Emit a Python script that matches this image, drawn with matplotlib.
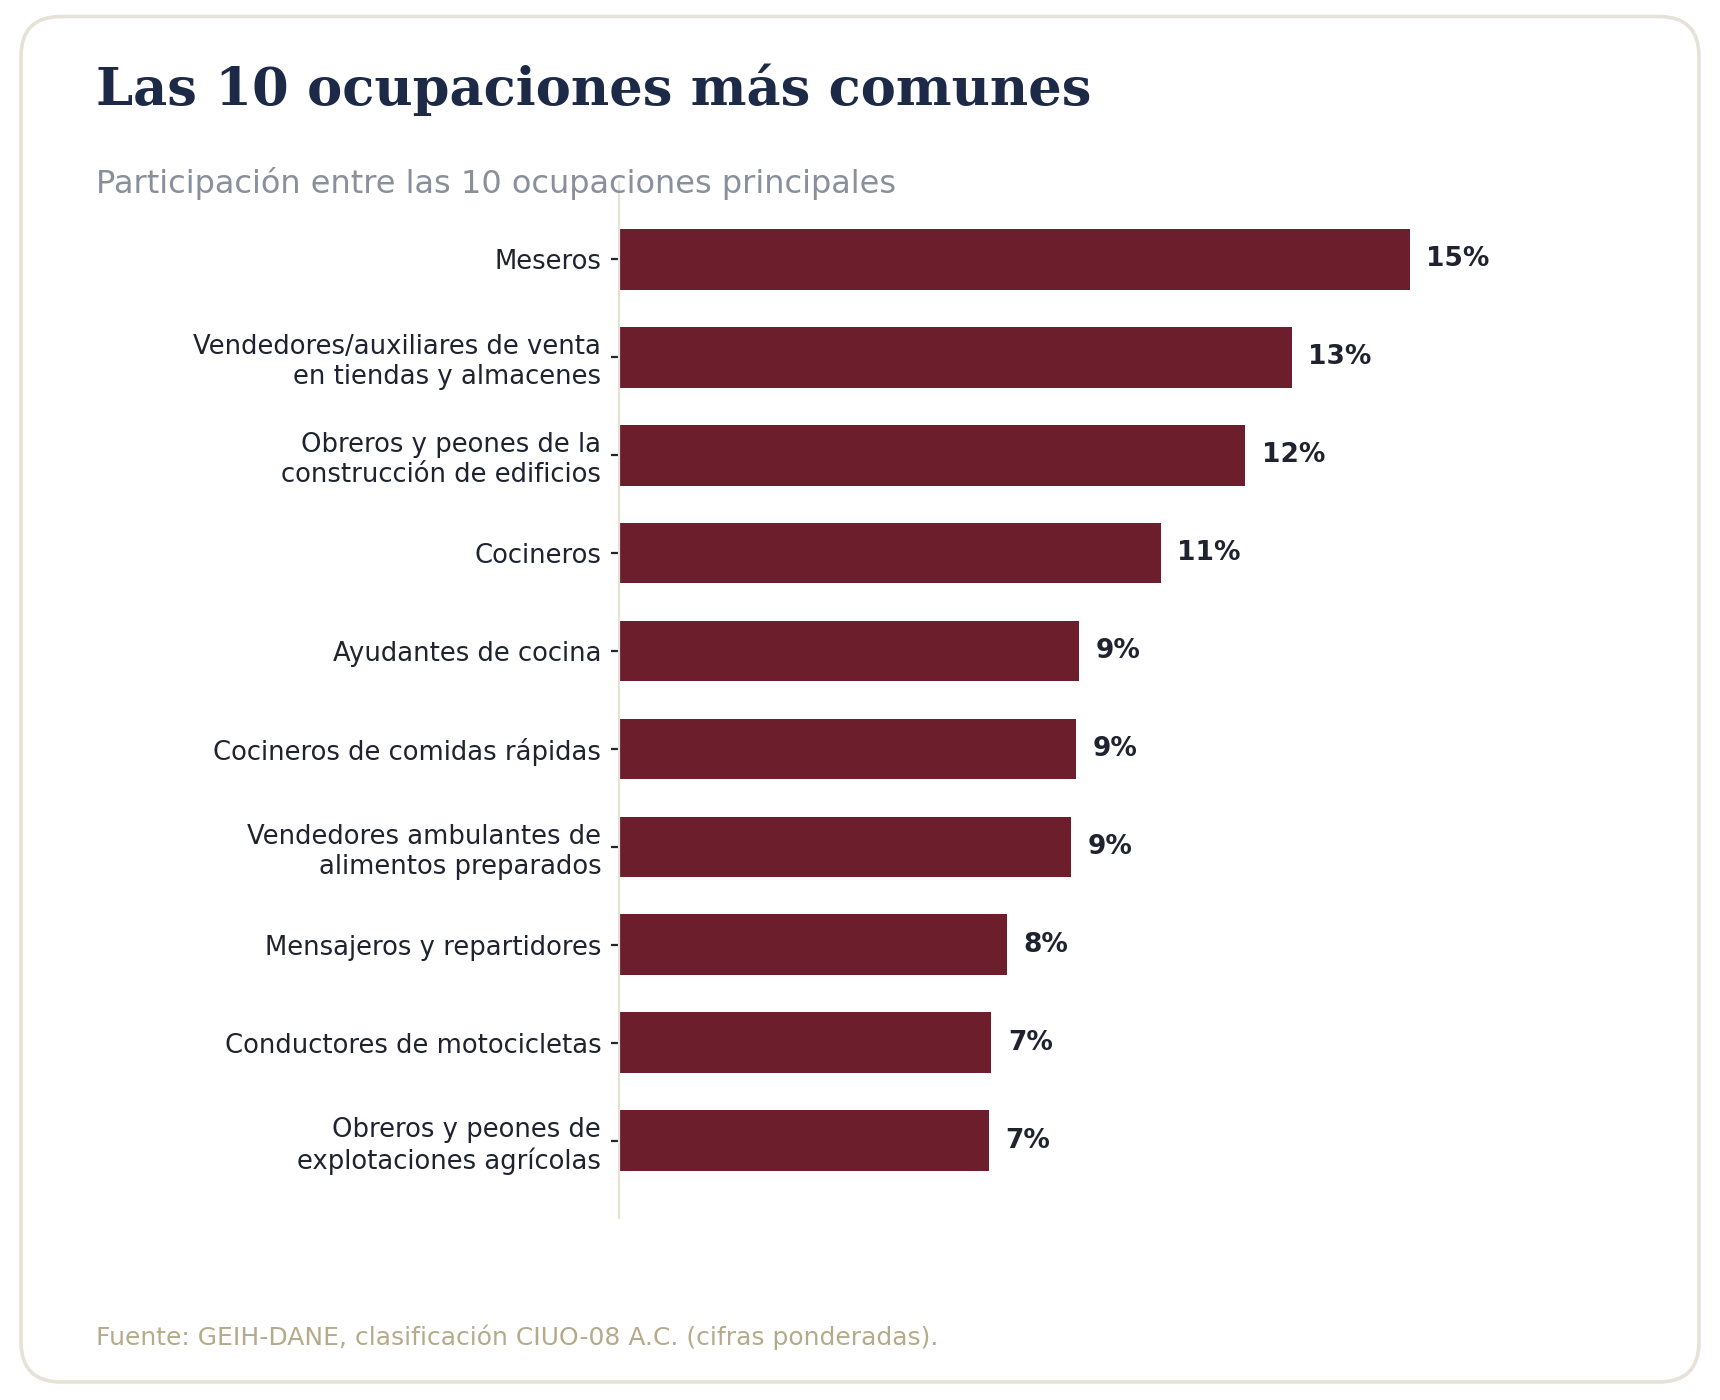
import matplotlib
matplotlib.use("Agg")
import matplotlib.pyplot as plt
from matplotlib.patches import FancyBboxPatch

categories = [
    "Meseros",
    "Vendedores/auxiliares de venta\nen tiendas y almacenes",
    "Obreros y peones de la\nconstrucción de edificios",
    "Cocineros",
    "Ayudantes de cocina",
    "Cocineros de comidas rápidas",
    "Vendedores ambulantes de\nalimentos preparados",
    "Mensajeros y repartidores",
    "Conductores de motocicletas",
    "Obreros y peones de\nexplotaciones agrícolas",
]
shares = [15.4, 13.1, 12.2, 10.55, 8.95, 8.9, 8.8, 7.55, 7.25, 7.2]

title = "Las 10 ocupaciones más comunes"
subtitle = "Participación entre las 10 ocupaciones principales"
source = "Fuente: GEIH-DANE, clasificación CIUO-08 A.C. (cifras ponderadas)."

BAR = "#6c1e2c"
TXT = "#1f2330"
TITLE = "#1c2a48"
SUB = "#8a8f9c"
FOOT = "#b5aa8a"
BORDER = "#e6e2d8"

plt.rcParams['font.family'] = ['DejaVu Sans']

fig = plt.figure(figsize=(8.6, 7), dpi=200)
fig.patch.set_facecolor("white")

# card background
bg = fig.add_axes([0, 0, 1, 1])
bg.set_xlim(0, 1720)
bg.set_ylim(0, 1400)
bg.axis("off")
card = FancyBboxPatch((21, 18), 1678, 1365.5,
                      boxstyle="round,pad=0,rounding_size=40",
                      facecolor="white", edgecolor=BORDER, linewidth=1.3)
bg.add_patch(card)

ax = fig.add_axes([0.36, 0.13, 0.57, 0.74])
ax.patch.set_alpha(0)
ypos = list(range(len(categories)))
ax.barh(ypos, shares, height=0.62, color=BAR)
ax.set_yticks(ypos)
ax.set_yticklabels(categories, fontsize=9.3, color=TXT)
ax.invert_yaxis()
ax.set_xlim(0, 19.1)
ax.set_xticks([])
for s in ["top", "right", "bottom"]:
    ax.spines[s].set_visible(False)
ax.spines["left"].set_color(BORDER)
ax.spines["left"].set_linewidth(0.8)
ax.tick_params(axis="y", length=3, width=0.8, color=TXT, pad=3.5)

for y, v in zip(ypos, shares):
    ax.annotate(f"{v:.0f}%", xy=(v, y), xytext=(6, 0), textcoords="offset points",
                ha="left", va="center", fontsize=9.5, fontweight="bold", color=TXT)

fig.text(0.056, 1 - 105 / 1400, title, fontsize=19, fontweight="bold",
         family="DejaVu Serif", color=TITLE, ha="left", va="baseline")
fig.text(0.056, 1 - 193 / 1400, subtitle, fontsize=11.5, color=SUB,
         ha="left", va="baseline")
fig.text(0.056, 1 - 1337 / 1400, source, fontsize=9, color=FOOT,
         ha="left", va="center")

fig.savefig("out.png", dpi=200, facecolor="white")
